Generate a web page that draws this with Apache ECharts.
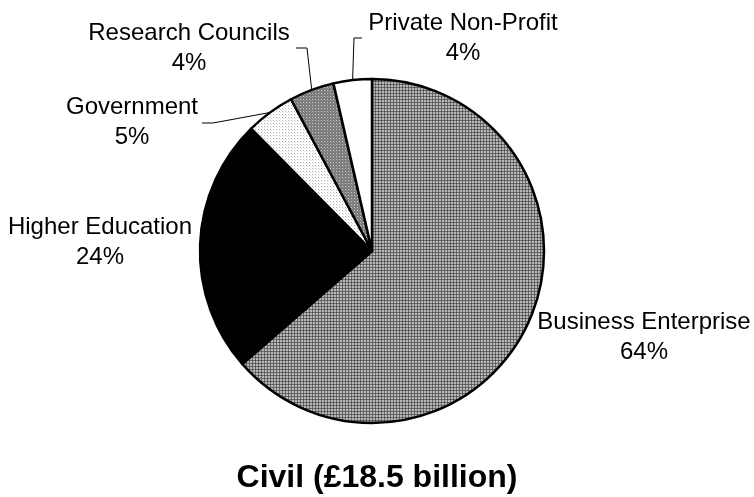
<!DOCTYPE html>
<html>
<head>
<meta charset="utf-8">
<script src="https://cdn.jsdelivr.net/npm/echarts@6/dist/echarts.min.js"></script>
<style>
html,body{margin:0;padding:0;background:#fff;}
#chart{width:754px;height:497px;}
</style>
</head>
<body>
<div id="chart"></div>
<script>
// Data (percent shares)
var categories = ['Business Enterprise', 'Higher Education', 'Government', 'Research Councils', 'Private Non-Profit'];
var shares = [63.6, 24.0, 4.6, 4.2, 3.6];
var chartTitle = 'Civil (£18.5 billion)';

function makePattern(w, h, bg, dots) {
  var c = document.createElement('canvas');
  c.width = w; c.height = h;
  var ctx = c.getContext('2d');
  ctx.fillStyle = bg; ctx.fillRect(0, 0, w, h);
  dots.forEach(function (d) { ctx.fillStyle = d[2]; ctx.fillRect(d[0], d[1], 1, 1); });
  return c;
}
// grid pattern for business enterprise
var gridCanvas = makePattern(3, 3, '#b8b8b8', [
  [0,0,'#4a4a4a'],[1,0,'#6a6a6a'],[2,0,'#6a6a6a'],[0,1,'#6a6a6a'],[0,2,'#6a6a6a']
]);
var lightDots = makePattern(3, 3, '#ffffff', [[0,0,'#b0b0b0'],[1,1,'#e0e0e0']]);
var darkDots = makePattern(3, 3, '#7c7c7c', [[0,0,'#c8c8c8'],[1,1,'#909090']]);

var fills = [
  {image: gridCanvas, repeat: 'repeat'},
  '#000000',
  {image: lightDots, repeat: 'repeat'},
  {image: darkDots, repeat: 'repeat'},
  '#ffffff'
];

// label anchor positions (layout only)
var labelPos = [
  {x: 644, y: 337, line: null},
  {x: 100, y: 242, line: null},
  {x: 132, y: 122, line: [[213, 123], [202, 123]]},
  {x: 189, y: 48, line: [[307, 48], [296, 48]]},
  {x: 463, y: 38, line: [[354, 38], [362, 38]]}
];

var data = categories.map(function (name, i) {
  return {name: name, value: shares[i], itemStyle: {color: fills[i]}};
});

var chart = echarts.init(document.getElementById('chart'), null, {renderer: 'canvas'});
chart.setOption({
  animation: false,
  backgroundColor: '#ffffff',
  title: {
    text: chartTitle,
    left: 'center',
    top: 457,
    textStyle: {fontFamily: 'Liberation Sans, Arial, sans-serif', fontSize: 32, fontWeight: 'bold', color: '#000'}
  },
  series: [{
    type: 'pie',
    center: [372, 251],
    radius: 172,
    startAngle: 90,
    clockwise: true,
    avoidLabelOverlap: false,
    data: data,
    itemStyle: {borderColor: '#000', borderWidth: 2.5},
    emphasis: {disabled: true},
    label: {
      show: true,
      position: 'outside',
      formatter: function (p) { return p.name + '\n' + Math.round(p.value) + '%'; },
      fontFamily: 'Liberation Sans, Arial, sans-serif',
      fontSize: 24,
      lineHeight: 30,
      color: '#000',
      align: 'center'
    },
    labelLine: {show: true, lineStyle: {color: '#000', width: 1}, length: 10, length2: 10},
    labelLayout: function (params) {
      var lp = labelPos[params.dataIndex];
      var res = {x: lp.x, y: lp.y, align: 'center', verticalAlign: 'middle'};
      if (lp.line) {
        var start = params.labelLinePoints ? params.labelLinePoints[0] : lp.line[0];
        res.labelLinePoints = [start, lp.line[0], lp.line[1]];
      } else {
        res.labelLinePoints = [[0,0],[0,0],[0,0]];
      }
      return res;
    }
  }]
});
</script>
</body>
</html>
